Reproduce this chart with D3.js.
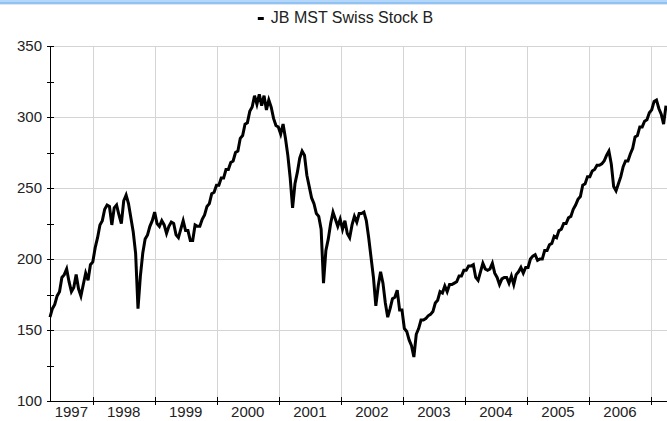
<!DOCTYPE html>
<html>
<head>
<meta charset="utf-8">
<script src="https://cdnjs.cloudflare.com/ajax/libs/d3/7.8.5/d3.min.js"></script>
<style>
  body { margin: 0; background: #fff; }
  text { font-family: "Liberation Sans", Arial, sans-serif; fill: #222; }
</style>
</head>
<body>
<div id="chart"></div>
<script>
// fortnightly closes, one array per year (1997 starts late April)
var values1997 = [159,165,168,174,177,187,189,193,184,177,180,189,179,174,182,190,185,196];
var values1998 = [198,208,215,224,227,235,238,237,224,236,238,231,225,241,245,239,229,219,204,165,188,204,214,217,223,227];
var values1999 = [233,225,223,227,224,218,223,226,225,217,215,221,227,220,220,213,213,224,223,223,228,231,237,239,246,247];
var values2000 = [252,252,257,257,263,263,268,269,275,276,285,287,295,296,304,307,315,309,316,308,315,305,312,307,299,294];
var values2001 = [293,288,295,285,273,257,236,253,261,271,276,273,259,251,243,239,232,230,221,183,206,214,225,233,228,223];
var values2002 = [228,221,227,218,215,224,230,226,232,232,233,227,215,201,187,167,181,191,183,169,159,165,172,173,178,164];
var values2003 = [164,151,149,143,139,131,147,151,157,157,158,160,161,163,169,171,177,176,181,177,182,182,183,184,188,188];
var values2004 = [192,192,195,195,196,187,185,191,197,193,192,193,197,190,187,182,186,187,187,183,188,182,189,191,194,190];
var values2005 = [194,194,200,202,203,199,200,200,206,206,210,211,216,215,220,221,225,225,229,230,235,238,242,244,252,253];
var values2006 = [258,258,262,263,266,266,267,269,273,276,267,251,248,253,258,265,269,269,274,278,286,287,293,293,297,298];
var values2007 = [303,305,311,312,306,302,295,308];

var seriesName = "JB MST Swiss Stock B";
var yearTicks = [1998,1999,2000,2001,2002,2003,2004,2005,2006,2007];
var yearLabels = [1997,1998,1999,2000,2001,2002,2003,2004,2005,2006];
var yTicks = [100,125,150,175,200,225,250,275,300,325,350];
var yLabels = [100,150,200,250,300,350];

var firstDate = new Date(1997, 3, 25);
var lastDate = new Date(2007, 3, 5);

var values = [].concat(values1997, values1998, values1999, values2000, values2001,
  values2002, values2003, values2004, values2005, values2006, values2007);
var data = values.map(function (v, i) {
  return { date: d3.timeDay.offset(firstDate, i * 14), value: v };
});

var w = 667, h = 421;
var plotLeft = 50, plotRight = 667, plotTop = 46, plotBottom = 401;

var svg = d3.select("#chart").append("svg")
  .attr("width", w)
  .attr("height", h);

// window strip along the top
svg.append("rect").attr("x", 0).attr("y", 0).attr("width", w).attr("height", 2).attr("fill", "#b4d6f8");
svg.append("rect").attr("x", 0).attr("y", 2).attr("width", w).attr("height", 2).attr("fill", "#8fc2f5");
svg.append("rect").attr("x", 0).attr("y", 4).attr("width", w).attr("height", 1).attr("fill", "#dfe7ef");

var x = d3.scaleTime().domain([firstDate, lastDate]).range([plotLeft, plotRight]);
var y = d3.scaleLinear().domain([100, 350]).range([plotBottom, plotTop]);

function yearX(yr) {
  return Math.round(x(new Date(yr, 0, 1))) + 0.5;
}

var grid = svg.append("g").attr("class", "grid");
grid.selectAll("line.v")
  .data(yearTicks)
  .enter().append("line")
  .attr("class", "v")
  .attr("x1", yearX)
  .attr("x2", yearX)
  .attr("y1", plotTop)
  .attr("y2", plotBottom)
  .attr("stroke", "#d4d4d4");
grid.selectAll("line.h")
  .data(yLabels.slice(1))
  .enter().append("line")
  .attr("class", "h")
  .attr("x1", plotLeft)
  .attr("x2", plotRight)
  .attr("y1", function (d) { return Math.round(y(d)) + 0.5; })
  .attr("y2", function (d) { return Math.round(y(d)) + 0.5; })
  .attr("stroke", "#d4d4d4");

var line = d3.line()
  .x(function (d) { return x(d.date); })
  .y(function (d) { return y(d.value); });

svg.append("path")
  .datum(data)
  .attr("fill", "none")
  .attr("stroke", "#000")
  .attr("stroke-width", 3)
  .attr("stroke-linejoin", "miter")
  .attr("d", line);

// axes: ticks cross the axis line
var yAxis = svg.append("g");
yAxis.append("line")
  .attr("x1", plotLeft + 0.5).attr("x2", plotLeft + 0.5)
  .attr("y1", plotTop).attr("y2", plotBottom)
  .attr("stroke", "#000");
yAxis.selectAll("line.tick")
  .data(yTicks)
  .enter().append("line")
  .attr("class", "tick")
  .attr("x1", plotLeft - 3).attr("x2", plotLeft + 4)
  .attr("y1", function (d) { return Math.round(y(d)) + 0.5; })
  .attr("y2", function (d) { return Math.round(y(d)) + 0.5; })
  .attr("stroke", "#000");
yAxis.selectAll("text")
  .data(yLabels)
  .enter().append("text")
  .attr("x", plotLeft - 8)
  .attr("y", function (d) { return y(d) + 5; })
  .attr("text-anchor", "end")
  .attr("font-size", 15)
  .text(function (d) { return d; });

var xAxis = svg.append("g");
xAxis.append("line")
  .attr("x1", plotLeft).attr("x2", plotRight)
  .attr("y1", plotBottom + 0.5).attr("y2", plotBottom + 0.5)
  .attr("stroke", "#000");
xAxis.selectAll("line.tick")
  .data(yearTicks)
  .enter().append("line")
  .attr("class", "tick")
  .attr("x1", yearX)
  .attr("x2", yearX)
  .attr("y1", plotBottom - 4).attr("y2", plotBottom + 4)
  .attr("stroke", "#000");
xAxis.selectAll("text")
  .data(yearLabels)
  .enter().append("text")
  .attr("x", function (d) {
    var a = Math.max(plotLeft, x(new Date(d, 0, 1)));
    var b = Math.min(plotRight, x(new Date(d + 1, 0, 1)));
    return (a + b) / 2;
  })
  .attr("y", plotBottom + 16)
  .attr("text-anchor", "middle")
  .attr("font-size", 15)
  .text(function (d) { return d; });

// legend / title
var legend = svg.append("g").attr("transform", "translate(352,23)");
var title = legend.append("text")
  .attr("x", 0)
  .attr("y", 0)
  .attr("text-anchor", "middle")
  .attr("font-size", 16)
  .text(seriesName);
var tw = title.node().getComputedTextLength();
legend.append("rect")
  .attr("x", -tw / 2 - 13)
  .attr("y", -6)
  .attr("width", 6)
  .attr("height", 3)
  .attr("fill", "#000");
</script>
</body>
</html>
